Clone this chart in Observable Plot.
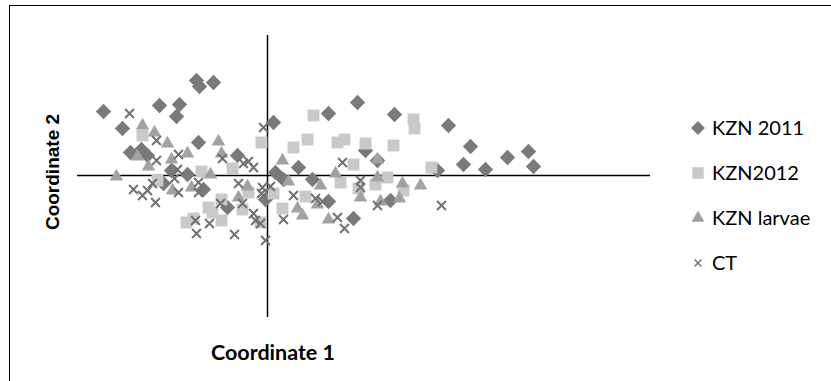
<!DOCTYPE html>
<html>
<head>
<meta charset="utf-8">
<script src="https://cdn.jsdelivr.net/npm/d3@7"></script>
<script src="https://cdn.jsdelivr.net/npm/@observablehq/plot@0.6"></script>
<style>
  html, body { margin: 0; padding: 0; background: #fff; }
  #root { position: relative; width: 831px; height: 381px; overflow: hidden; background: #fff; }
  #frame { position: absolute; left: 9px; top: 5px; width: 900px; height: 500px; border: 1.5px solid #000; box-sizing: border-box; }
  #chart { position: absolute; left: 0; top: 0; }
  .lab { position: absolute; white-space: nowrap; color: #000; }
  #xlab { font-family: Lato, "Open Sans", sans-serif; font-weight: bold; font-size: 21.5px; left: 273px; top: 339px; transform: translateX(-50%); }
  #ylab { font-family: "Liberation Sans", Arial, sans-serif; font-weight: bold; font-size: 19px; left: 53px; top: 172px; transform: translate(-50%, -50%) rotate(-90deg); }
  .leg { position: absolute; font-family: Lato, "Open Sans", sans-serif; font-size: 20px; color: #000; white-space: nowrap; }
</style>
</head>
<body>
<div id="root">
  <div id="frame"></div>
  <div id="chart"></div>
  <div id="xlab" class="lab">Coordinate 1</div>
  <div id="ylab" class="lab">Coordinate 2</div>
  <div id="legend"></div>
</div>
<script>
// Series names
const seriesNames = ["KZN 2011", "KZN2012", "KZN larvae", "CT"];

// KZN 2011 (Coordinate 1, Coordinate 2)
const kzn2011 = [
  [-1.64, 0.64], [-1.45, 0.47], [-1.08, 0.70], [-0.88, 0.71], [-0.91, 0.59],
  [-0.71, 0.95], [-0.68, 0.89], [-0.54, 0.93], [-0.69, 0.33], [-1.37, 0.23],
  [-1.26, 0.26], [-1.20, 0.20], [-0.96, 0.05], [-0.80, 0.01], [-1.04, -0.08],
  [-0.30, 0.20], [-0.64, -0.14], [-0.40, -0.32], [-0.02, -0.24], [0.06, 0.53],
  [0.61, 0.62], [0.90, 0.73], [1.27, 0.61], [1.81, 0.50], [2.03, 0.29],
  [1.96, 0.11], [2.18, 0.06], [2.40, 0.18], [2.61, 0.24], [2.66, 0.09],
  [1.70, 0.05], [0.98, 0.25], [1.10, 0.15], [0.31, 0.08], [0.08, 0.03],
  [0.16, -0.04], [0.45, -0.04], [0.61, -0.26], [0.86, -0.43], [1.23, -0.25]
];

// KZN2012
const kzn2012 = [
  [-1.25, 0.40], [0.46, 0.60], [0.40, 0.36], [0.26, 0.28], [0.70, 0.33],
  [0.77, 0.36], [0.98, 0.32], [1.26, 0.30], [1.46, 0.56], [1.47, 0.47],
  [-0.06, 0.33], [-0.35, 0.07], [-0.66, 0.04], [-1.10, -0.05], [0.86, 0.11],
  [0.73, -0.07], [0.91, -0.13], [1.08, -0.09], [1.20, -0.02], [1.36, -0.15],
  [1.64, 0.08], [0.38, -0.21], [0.06, -0.18], [0.15, -0.33], [-0.25, -0.34],
  [-0.46, -0.24], [-0.59, -0.32], [-0.74, -0.43], [-0.81, -0.47], [-0.46, -0.45],
  [-0.07, -0.47], [-0.19, -0.17], [-0.55, -0.37]
];

// KZN larvae
const kznLarvae = [
  [-1.25, 0.50], [-1.13, 0.43], [-1.00, 0.32], [-0.80, 0.22], [-0.49, 0.34],
  [-0.46, 0.22], [-1.30, 0.19], [-1.19, 0.09], [-0.96, 0.16], [-1.51, -0.01],
  [-0.57, 0.01], [0.15, 0.15], [0.21, -0.06], [0.53, -0.10], [0.68, 0.02],
  [0.30, -0.33], [0.35, -0.40], [0.50, -0.29], [0.61, -0.44], [1.10, 0.16],
  [1.10, -0.02], [1.35, -0.08], [1.53, -0.10], [0.93, -0.22], [1.13, -0.26],
  [1.32, -0.23], [-0.20, -0.11], [-0.29, -0.22], [-0.95, -0.15], [-0.76, -0.12]
];

// CT
const ct = [
  [-1.38, 0.62], [-1.11, 0.35], [-0.89, 0.21], [-1.11, 0.15], [-0.45, 0.17],
  [-0.04, 0.48], [-0.24, 0.12], [-0.19, 0.14], [-0.14, 0.08], [-0.90, 0.06],
  [0.75, 0.13], [-1.34, -0.14], [-1.25, -0.20], [-1.20, -0.15], [-1.12, -0.27],
  [-1.15, -0.08], [-0.93, -0.03], [-0.89, -0.17], [-0.69, -0.07], [-0.69, -0.17],
  [-0.72, -0.45], [-0.58, -0.48], [-0.71, -0.58], [-0.33, -0.59], [-0.47, -0.28],
  [-0.29, -0.08], [-0.25, -0.28], [-0.14, -0.38], [-0.12, -0.45], [-0.07, -0.48],
  [-0.02, -0.65], [-0.06, -0.18], [-0.05, -0.12], [0.93, -0.05], [0.93, -0.12],
  [0.03, -0.11], [0.26, -0.20], [0.48, -0.23], [0.55, -0.26], [0.16, -0.44],
  [0.70, -0.42], [0.77, -0.53], [1.10, -0.30], [1.74, -0.30]
];

const xDomain = [-1.90, 3.83];
const yDomain = [-1.42, 1.40];

const colors = { d: "#7a7a7a", s: "#c9c9c9", t: "#a2a2a2", x: "#727272" };

const chart = Plot.plot({
  width: 831,
  height: 381,
  marginLeft: 77,
  marginRight: 181,
  marginTop: 35,
  marginBottom: 64,
  x: { domain: xDomain, axis: null },
  y: { domain: yDomain, axis: null },
  style: { background: "transparent", overflow: "visible" },
  marks: [
    Plot.ruleY([0], { stroke: "#000", strokeWidth: 1.5 }),
    Plot.ruleX([0], { stroke: "#000", strokeWidth: 1.5 }),
    Plot.dot(kzn2011, { x: d => d[0], y: d => d[1], symbol: "diamond2", fill: colors.d, stroke: "none", r: 6.9 }),
    Plot.dot(kzn2012, { x: d => d[0], y: d => d[1], symbol: "square", fill: colors.s, stroke: "none", r: 6.7 }),
    Plot.dot(kznLarvae, { x: d => d[0], y: d => d[1], symbol: "triangle", fill: colors.t, stroke: "none", r: 5 }),
    Plot.dot(ct, { x: d => d[0], y: d => d[1], symbol: "times", fill: "none", stroke: colors.x, strokeWidth: 2, r: 4.1 })
  ]
});
document.getElementById("chart").appendChild(chart);

// Legend
const legendSymbols = [
  { sym: d3.symbolDiamond2, size: Math.PI * 6.2 * 6.2, fill: colors.d, stroke: "none" },
  { sym: d3.symbolSquare, size: Math.PI * 6.5 * 6.5, fill: colors.s, stroke: "none" },
  { sym: d3.symbolTriangle, size: Math.PI * 4.8 * 4.8, fill: colors.t, stroke: "none" },
  { sym: d3.symbolTimes, size: Math.PI * 3.2 * 3.2, fill: "none", stroke: colors.x, sw: 1.5 }
];
const legendTop = 117;
const legendStep = 45;
const legend = d3.select("#legend");
seriesNames.forEach((name, i) => {
  const cy = legendTop + i * legendStep + 11;
  const s = legendSymbols[i];
  const svg = legend.append("svg")
    .style("position", "absolute")
    .style("left", (698 - 10) + "px")
    .style("top", (cy - 10) + "px")
    .attr("width", 20).attr("height", 20);
  svg.append("path")
    .attr("transform", "translate(10,10)")
    .attr("d", d3.symbol(s.sym, s.size)())
    .attr("fill", s.fill)
    .attr("stroke", s.stroke)
    .attr("stroke-width", s.sw || 0);
  legend.append("div")
    .attr("class", "leg")
    .style("left", "712px")
    .style("top", (legendTop + i * legendStep - 2) + "px")
    .text(name);
});
</script>
</body>
</html>
